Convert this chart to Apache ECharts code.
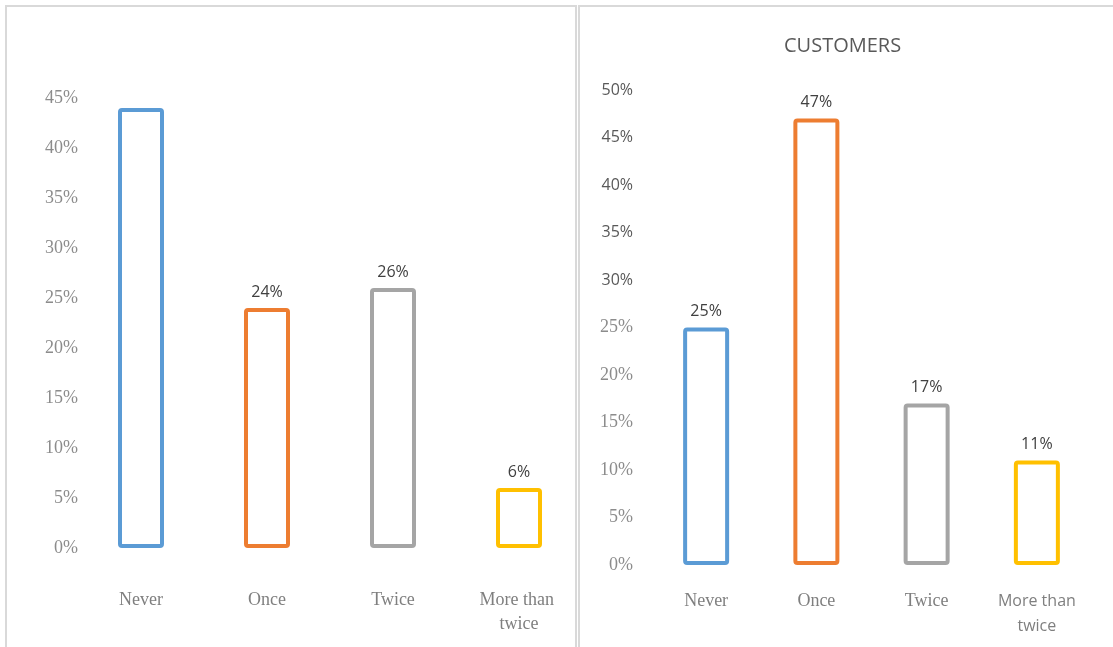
<!DOCTYPE html>
<html>
<head>
<meta charset="utf-8">
<style>
  html, body { margin: 0; padding: 0; background: #ffffff; }
  #chart { width: 1113px; height: 647px; }
</style>
<script src="https://cdn.jsdelivr.net/npm/echarts@6/dist/echarts.min.js"></script>
</head>
<body>
<div id="chart"></div>
<script>
// Answer categories shared by both panels
const categories = ['Never', 'Once', 'Twice', 'More than twice'];

// Share of respondents per answer (percent)
const leftValues = [44, 24, 26, 6];
const customerValues = [25, 47, 17, 11];

const barColors = ['#5B9BD5', '#ED7D31', '#A5A5A5', '#FFC000'];

const SERIF = '"Liberation Serif", "DejaVu Serif", serif';
const SANS = '"Open Sans", "Liberation Sans", sans-serif';

function outlinedBars(values, hideFirstLabel) {
  return values.map((v, i) => {
    const item = {
      value: v,
      itemStyle: { color: 'rgba(0,0,0,0)', borderColor: barColors[i], borderWidth: 4, borderRadius: 2 }
    };
    if (hideFirstLabel && i === 0) item.label = { show: false };
    return item;
  });
}

const chart = echarts.init(document.getElementById('chart'));

chart.setOption({
  animation: false,
  backgroundColor: '#ffffff',
  title: {
    text: 'CUSTOMERS',
    left: 779,
    top: 31,
    textStyle: { fontFamily: SANS, fontSize: 20, fontWeight: 'normal', color: '#595959' }
  },
  graphic: [
    { type: 'rect', shape: { x: 6, y: 6, width: 570, height: 660 }, style: { fill: 'none', stroke: '#d9d9d9', lineWidth: 2 }, silent: true },
    { type: 'rect', shape: { x: 579, y: 6, width: 560, height: 660 }, style: { fill: 'none', stroke: '#d9d9d9', lineWidth: 2 }, silent: true }
  ],
  grid: [
    { left: 78, width: 504, top: 98, bottom: 99 },
    { left: 651, width: 441, top: 90, bottom: 82 }
  ],
  xAxis: [
    {
      type: 'category', gridIndex: 0, data: categories,
      axisLine: { show: false }, axisTick: { show: false },
      axisLabel: {
        margin: 40, interval: 0, width: 90, overflow: 'break',
        fontFamily: SERIF, fontSize: 18, color: '#7f7f7f', lineHeight: 24
      }
    },
    {
      type: 'category', gridIndex: 1, data: categories,
      axisLine: { show: false }, axisTick: { show: false },
      axisLabel: {
        margin: 24, interval: 0,
        formatter: (v) => v === 'More than twice' ? '{s|More than}\n{s|twice}' : '{r|' + v + '}',
        rich: {
          r: { fontFamily: SERIF, fontSize: 18, color: '#7f7f7f', lineHeight: 24 },
          s: { fontFamily: SANS, fontSize: 16, color: '#7f7f7f', lineHeight: 25 }
        }
      }
    }
  ],
  yAxis: [
    {
      type: 'value', gridIndex: 0, min: 0, max: 45, interval: 5,
      splitLine: { show: false }, axisLine: { show: false }, axisTick: { show: false },
      axisLabel: { formatter: '{value}%', margin: 0, fontFamily: SERIF, fontSize: 18, color: '#8c8c8c' }
    },
    {
      type: 'value', gridIndex: 1, min: 0, max: 50, interval: 5,
      splitLine: { show: false }, axisLine: { show: false }, axisTick: { show: false },
      axisLabel: {
        margin: 18,
        formatter: (v) => v >= 30 ? '{s|' + v + '%}' : '{r|' + v + '%}',
        rich: {
          s: { fontFamily: SANS, fontSize: 16, color: '#595959' },
          r: { fontFamily: SERIF, fontSize: 18, color: '#8c8c8c' }
        }
      }
    }
  ],
  series: [
    {
      type: 'bar', xAxisIndex: 0, yAxisIndex: 0, barWidth: 46,
      data: outlinedBars(leftValues, true),
      label: { show: true, position: 'top', distance: 8, formatter: '{c}%', fontFamily: SANS, fontSize: 16, color: '#404040' }
    },
    {
      type: 'bar', xAxisIndex: 1, yAxisIndex: 1, barWidth: 46,
      data: outlinedBars(customerValues, false),
      label: { show: true, position: 'top', distance: 8, formatter: '{c}%', fontFamily: SANS, fontSize: 16, color: '#404040' }
    }
  ]
});
</script>
</body>
</html>
